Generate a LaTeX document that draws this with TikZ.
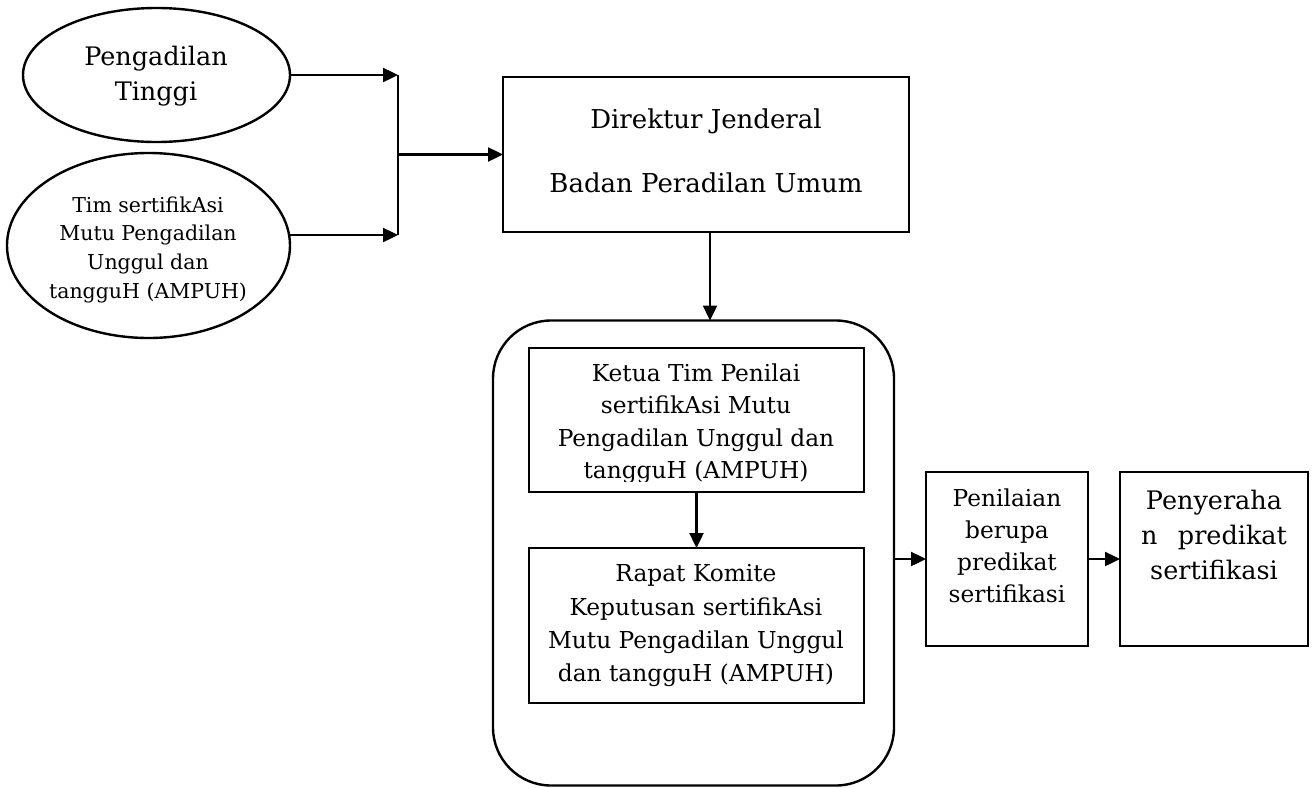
\documentclass[tikz,border=0pt]{standalone}
\usepackage{fontspec}
\setmainfont{DejaVu Serif}
\usetikzlibrary{arrows.meta,shapes.geometric}
\begin{document}
\begin{tikzpicture}[x=1pt,y=-1pt,
  shp/.style={draw=black,line width=2.4pt,inner sep=0pt,outer sep=0pt},
  ell/.style={shp,ellipse},
  boxr/.style={shp,rectangle},
  arr/.style={line width=2.4pt,-{Triangle[length=15pt,width=14pt]}},
  ln/.style={line width=2.4pt},
  tbig/.style={anchor=base,inner sep=0pt,font=\fontsize{25.5}{35}\selectfont},
  tdir/.style={anchor=base,inner sep=0pt,font=\fontsize{26}{35}\selectfont},
  tmid/.style={anchor=base,inner sep=0pt,font=\fontsize{23.3}{32}\selectfont},
  tsmall/.style={anchor=base,inner sep=0pt,font=\fontsize{20.5}{28}\selectfont}]
\useasboundingbox (0,0) rectangle (1314,787);

% shapes
\node[ell,minimum width=267pt,minimum height=134pt] (e1) at (156.5,75) {};
\node[ell,minimum width=283pt,minimum height=185pt] (e2) at (148.5,245.5) {};
\node[boxr,minimum width=406pt,minimum height=155pt] (dir) at (706,154.5) {};
\node[boxr,rounded corners=58pt,minimum width=401pt,minimum height=465pt] (cont) at (693.5,553) {};
\node[boxr,minimum width=335pt,minimum height=144pt] (ketua) at (696.5,420) {};
\node[boxr,minimum width=335pt,minimum height=155pt] (rapat) at (696.5,625.5) {};
\node[boxr,minimum width=162pt,minimum height=174pt] (pen) at (1007,559) {};
\node[boxr,minimum width=188pt,minimum height=174pt] (peny) at (1214,559) {};

% texts
\node[tbig] (e1t1) at (156,65) {Pengadilan};
\node[tbig] (e1t2) at (156,100) {Tinggi};
\foreach \t [count=\i] in {{Tim sertifikAsi},{Mutu Pengadilan},{Unggul dan},{tangguH (AMPUH)}}
  \node[tsmall] (e2t\i) at (148,{212+(\i-1)*28.7}) {\t};
\node[tdir] (dirt1) at (706,128) {Direktur Jenderal};
\node[tdir] (dirt2) at (706,192) {Badan Peradilan Umum};
\begin{scope}
  \clip (529,348) rectangle (864,481);
  \foreach \t [count=\i] in {{Ketua Tim Penilai},{sertifikAsi Mutu},{Pengadilan Unggul dan},{tangguH (AMPUH)}}
    \node[tmid] (kt\i) at (696,{381.7+(\i-1)*32.2}) {\t};
\end{scope}
\foreach \t [count=\i] in {{Rapat Komite},{Keputusan sertifikAsi},{Mutu Pengadilan Unggul},{dan tangguH (AMPUH)}}
  \node[tmid] (rt\i) at (696,{581.7+(\i-1)*33.3}) {\t};
\foreach \t [count=\i] in {{Penilaian},{berupa},{predikat},{sertifikasi}}
  \node[tmid] (pt\i) at (1007,{506+(\i-1)*32}) {\t};
\node[tbig] (yt1) at (1214,509) {Penyeraha};
\node[tbig] (yt2) at (1214,544) {n\hspace{0.8em}predikat};
\node[tbig] (yt3) at (1214,579) {sertifikasi};

% connectors
\coordinate (j1) at (398,75);
\coordinate (j2) at (398,235);
\coordinate (jm) at (398,154.5);
\draw[arr] (e1.east) -- (j1);
\draw[arr] (e2.east |- j2) -- (j2);
\draw[ln] (j1) -- (j2);
\draw[arr] (jm) -- (dir.west);
\draw[arr] (710,232) coordinate (ds) -- (ds |- cont.north);
\draw[arr] (ketua.south) -- (rapat.north);
\draw[arr] (cont.east |- pen.west) -- (pen.west);
\draw[arr] (pen.east) -- (peny.west);
\end{tikzpicture}
\end{document}
